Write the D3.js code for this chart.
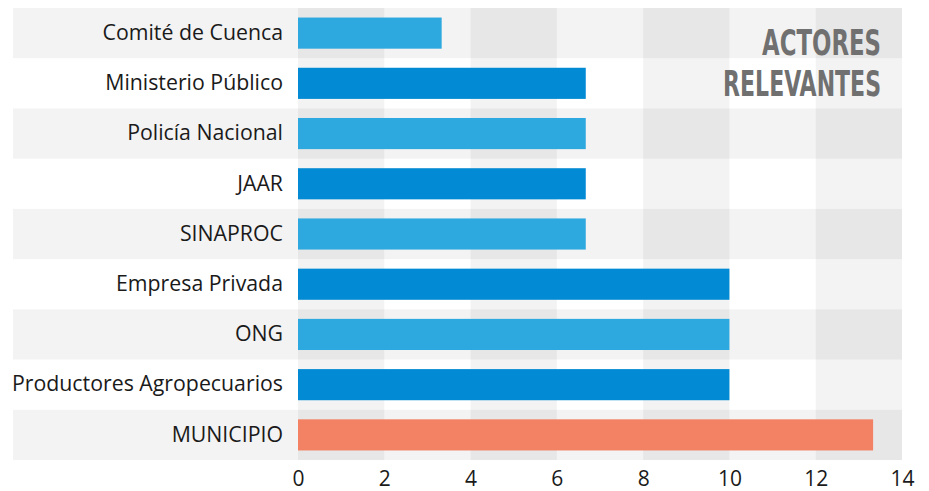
<!DOCTYPE html>
<html>
<head>
<meta charset="utf-8">
<script src="https://cdn.jsdelivr.net/npm/d3@7"></script>
<style>
  html, body { margin: 0; padding: 0; background: #fff; }
  svg { display: block; }
</style>
</head>
<body>
<svg id="chart" width="929" height="491"></svg>
<script>
// Actors and their share of mentions
const categories = [
  "Comité de Cuenca",
  "Ministerio Público",
  "Policía Nacional",
  "JAAR",
  "SINAPROC",
  "Empresa Privada",
  "ONG",
  "Productores Agropecuarios",
  "MUNICIPIO"
];
const values = [3.33, 6.67, 6.67, 6.67, 6.67, 10, 10, 10, 13.33];
const tickValues = [0, 2, 4, 6, 8, 10, 12, 14];
const title = ["ACTORES", "RELEVANTES"];

const svg = d3.select("#chart");
const plotLeft = 298, plotRight = 902, plotTop = 8, plotBottom = 460, stripeLeft = 13;

const x = d3.scaleLinear().domain([0, 14]).range([plotLeft, plotRight]);
const y = d3.scaleBand().domain(categories).range([plotTop, plotBottom]).paddingInner(0.38).paddingOuter(0.19);
const rows = d3.scaleBand().domain(categories).range([plotTop, plotBottom]);

const shade = "rgba(0,0,0,0.047)";

// alternating row stripes
svg.append("g").selectAll("rect")
  .data(categories.filter((d, i) => i % 2 === 0))
  .join("rect")
  .attr("x", stripeLeft)
  .attr("y", d => rows(d))
  .attr("width", x(14) - stripeLeft)
  .attr("height", rows.bandwidth())
  .attr("fill", shade);

// alternating column stripes every other tick interval
const colStarts = tickValues.slice(0, -1).filter((d, i) => i % 2 === 0);
svg.append("g").selectAll("rect")
  .data(colStarts)
  .join("rect")
  .attr("x", d => x(d))
  .attr("y", plotTop)
  .attr("width", d => x(d + 2) - x(d))
  .attr("height", plotBottom - plotTop)
  .attr("fill", shade);

// bars
const colorFor = (d, i) => i === categories.length - 1 ? "#f28263" : (i % 2 === 0 ? "#2ea9e0" : "#028bd4");
svg.append("g").selectAll("rect")
  .data(categories)
  .join("rect")
  .attr("x", x(0))
  .attr("y", d => y(d))
  .attr("width", (d, i) => x(values[i]) - x(0))
  .attr("height", y.bandwidth())
  .attr("fill", colorFor);

// category labels
const yAxis = d3.axisLeft(rows).tickSize(0).tickPadding(15);
const gy = svg.append("g").attr("transform", `translate(${plotLeft},0)`).call(yAxis);
gy.select(".domain").remove();
gy.selectAll("text")
  .attr("font-family", "'Open Sans', sans-serif")
  .attr("font-size", 21.3)
  .attr("fill", "#1a1a1a");

// value axis
const xAxis = d3.axisBottom(x).tickValues(tickValues).tickSize(0).tickPadding(11);
const gx = svg.append("g").attr("transform", `translate(0,${plotBottom})`).call(xAxis);
gx.select(".domain").remove();
gx.selectAll("text")
  .attr("font-family", "'Open Sans', sans-serif")
  .attr("font-size", 21)
  .attr("fill", "#1a1a1a");

// title block: condensed bold, squeezed horizontally to fit its column
const titleRight = 881;
const titleLines = [
  { text: title[0], baseline: 55, width: 119 },
  { text: title[1], baseline: 96, width: 158 }
];
titleLines.forEach(line => {
  const g = svg.append("g");
  const txt = g.append("text")
    .attr("x", 0)
    .attr("y", 0)
    .attr("font-family", "'Liberation Sans Narrow', 'DejaVu Sans Condensed', sans-serif")
    .attr("font-weight", "bold")
    .attr("font-size", 35)
    .attr("fill", "#707070")
    .attr("text-anchor", "end")
    .text(line.text);
  const natural = txt.node().getComputedTextLength();
  const sx = natural > 0 ? line.width / natural : 1;
  g.attr("transform", `translate(${titleRight},${line.baseline}) scale(${sx},1)`);
});
</script>
</body>
</html>
